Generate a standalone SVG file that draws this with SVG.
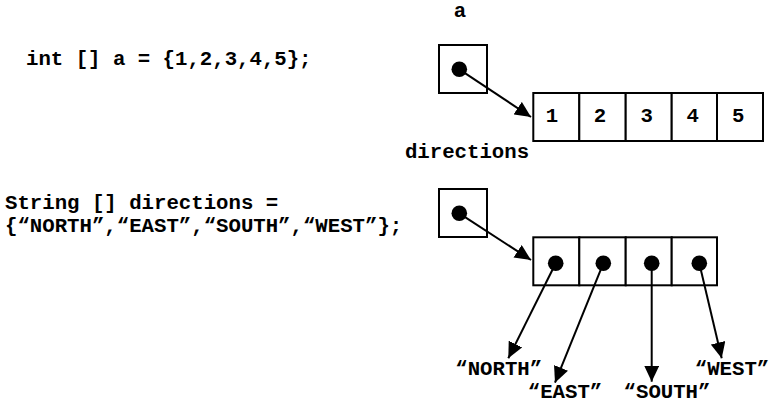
<svg xmlns="http://www.w3.org/2000/svg" width="772" height="403" viewBox="0 0 772 403">
<style>
text{font-family:"Liberation Mono","Courier New",monospace;font-weight:bold;font-size:20.7px;fill:#000}
.m{text-anchor:middle}
.box{fill:#fff;stroke:#000;stroke-width:2}
.dot{fill:#000}
.arr{stroke:#000;stroke-width:2;fill:none;marker-end:url(#ah)}
</style>
<defs>
<marker id="ah" markerUnits="userSpaceOnUse" markerWidth="17" markerHeight="15" refX="16" refY="7.5" orient="auto" viewBox="0 0 17 15">
<path d="M0,0 L16,7.5 L0,15 z" fill="#000"/>
</marker>
</defs>
<rect width="772" height="403" fill="#fff"/>
<g id="code-int"><text x="26" y="65" xml:space="preserve">int [] a = {1,2,3,4,5};</text></g>
<g id="code-string">
<text x="5" y="209" xml:space="preserve">String [] directions =</text>
<text x="5" y="232">{“NORTH”,“EAST”,“SOUTH”,“WEST”};</text>
</g>
<g id="var-a">
<text class="m" x="460" y="17">a</text>
<rect class="box" x="439" y="45" width="48" height="48"/>
<circle class="dot" cx="459.3" cy="69.3" r="7.8"/>
</g>
<g id="array-a">
<rect class="box" x="533.3" y="93" width="46" height="48"/>
<rect class="box" x="579.3" y="93" width="46.4" height="48"/>
<rect class="box" x="625.7" y="93" width="46" height="48"/>
<rect class="box" x="671.7" y="93" width="45.3" height="48"/>
<rect class="box" x="717" y="93" width="46" height="48"/>
<text class="m" x="552" y="122">1</text>
<text class="m" x="600" y="122">2</text>
<text class="m" x="646.7" y="122">3</text>
<text class="m" x="692.7" y="122">4</text>
<text class="m" x="738.3" y="122">5</text>
</g>
<g id="var-directions">
<text class="m" x="467" y="158">directions</text>
<rect class="box" x="439" y="189" width="48" height="48"/>
<circle class="dot" cx="459.3" cy="213.3" r="7.8"/>
</g>
<g id="array-directions">
<rect class="box" x="533.3" y="237.3" width="46" height="48"/>
<rect class="box" x="579.3" y="237.3" width="46.4" height="48"/>
<rect class="box" x="625.7" y="237.3" width="46" height="48"/>
<rect class="box" x="671.7" y="237.3" width="45.3" height="48"/>
<circle class="dot" cx="555.7" cy="263.3" r="7.8"/>
<circle class="dot" cx="603.3" cy="263.3" r="7.8"/>
<circle class="dot" cx="651.7" cy="263.3" r="7.8"/>
<circle class="dot" cx="699.3" cy="263.3" r="7.8"/>
</g>
<g id="str-north"><text class="m" x="498.7" y="375">“NORTH”</text></g>
<g id="str-east"><text class="m" x="565" y="398">“EAST”</text></g>
<g id="str-south"><text class="m" x="667" y="398">“SOUTH”</text></g>
<g id="str-west"><text class="m" x="732" y="375">“WEST”</text></g>
<g id="connectors">
<line class="arr" x1="459.3" y1="69.3" x2="531" y2="117"/>
<line class="arr" x1="459.3" y1="213.3" x2="531" y2="260"/>
<line class="arr" x1="555.7" y1="263.3" x2="508.3" y2="358.3"/>
<line class="arr" x1="603.3" y1="263.3" x2="555" y2="382.7"/>
<line class="arr" x1="651.7" y1="263.3" x2="651.7" y2="381.7"/>
<line class="arr" x1="699.3" y1="263.3" x2="721.7" y2="358.3"/>
</g>
</svg>
